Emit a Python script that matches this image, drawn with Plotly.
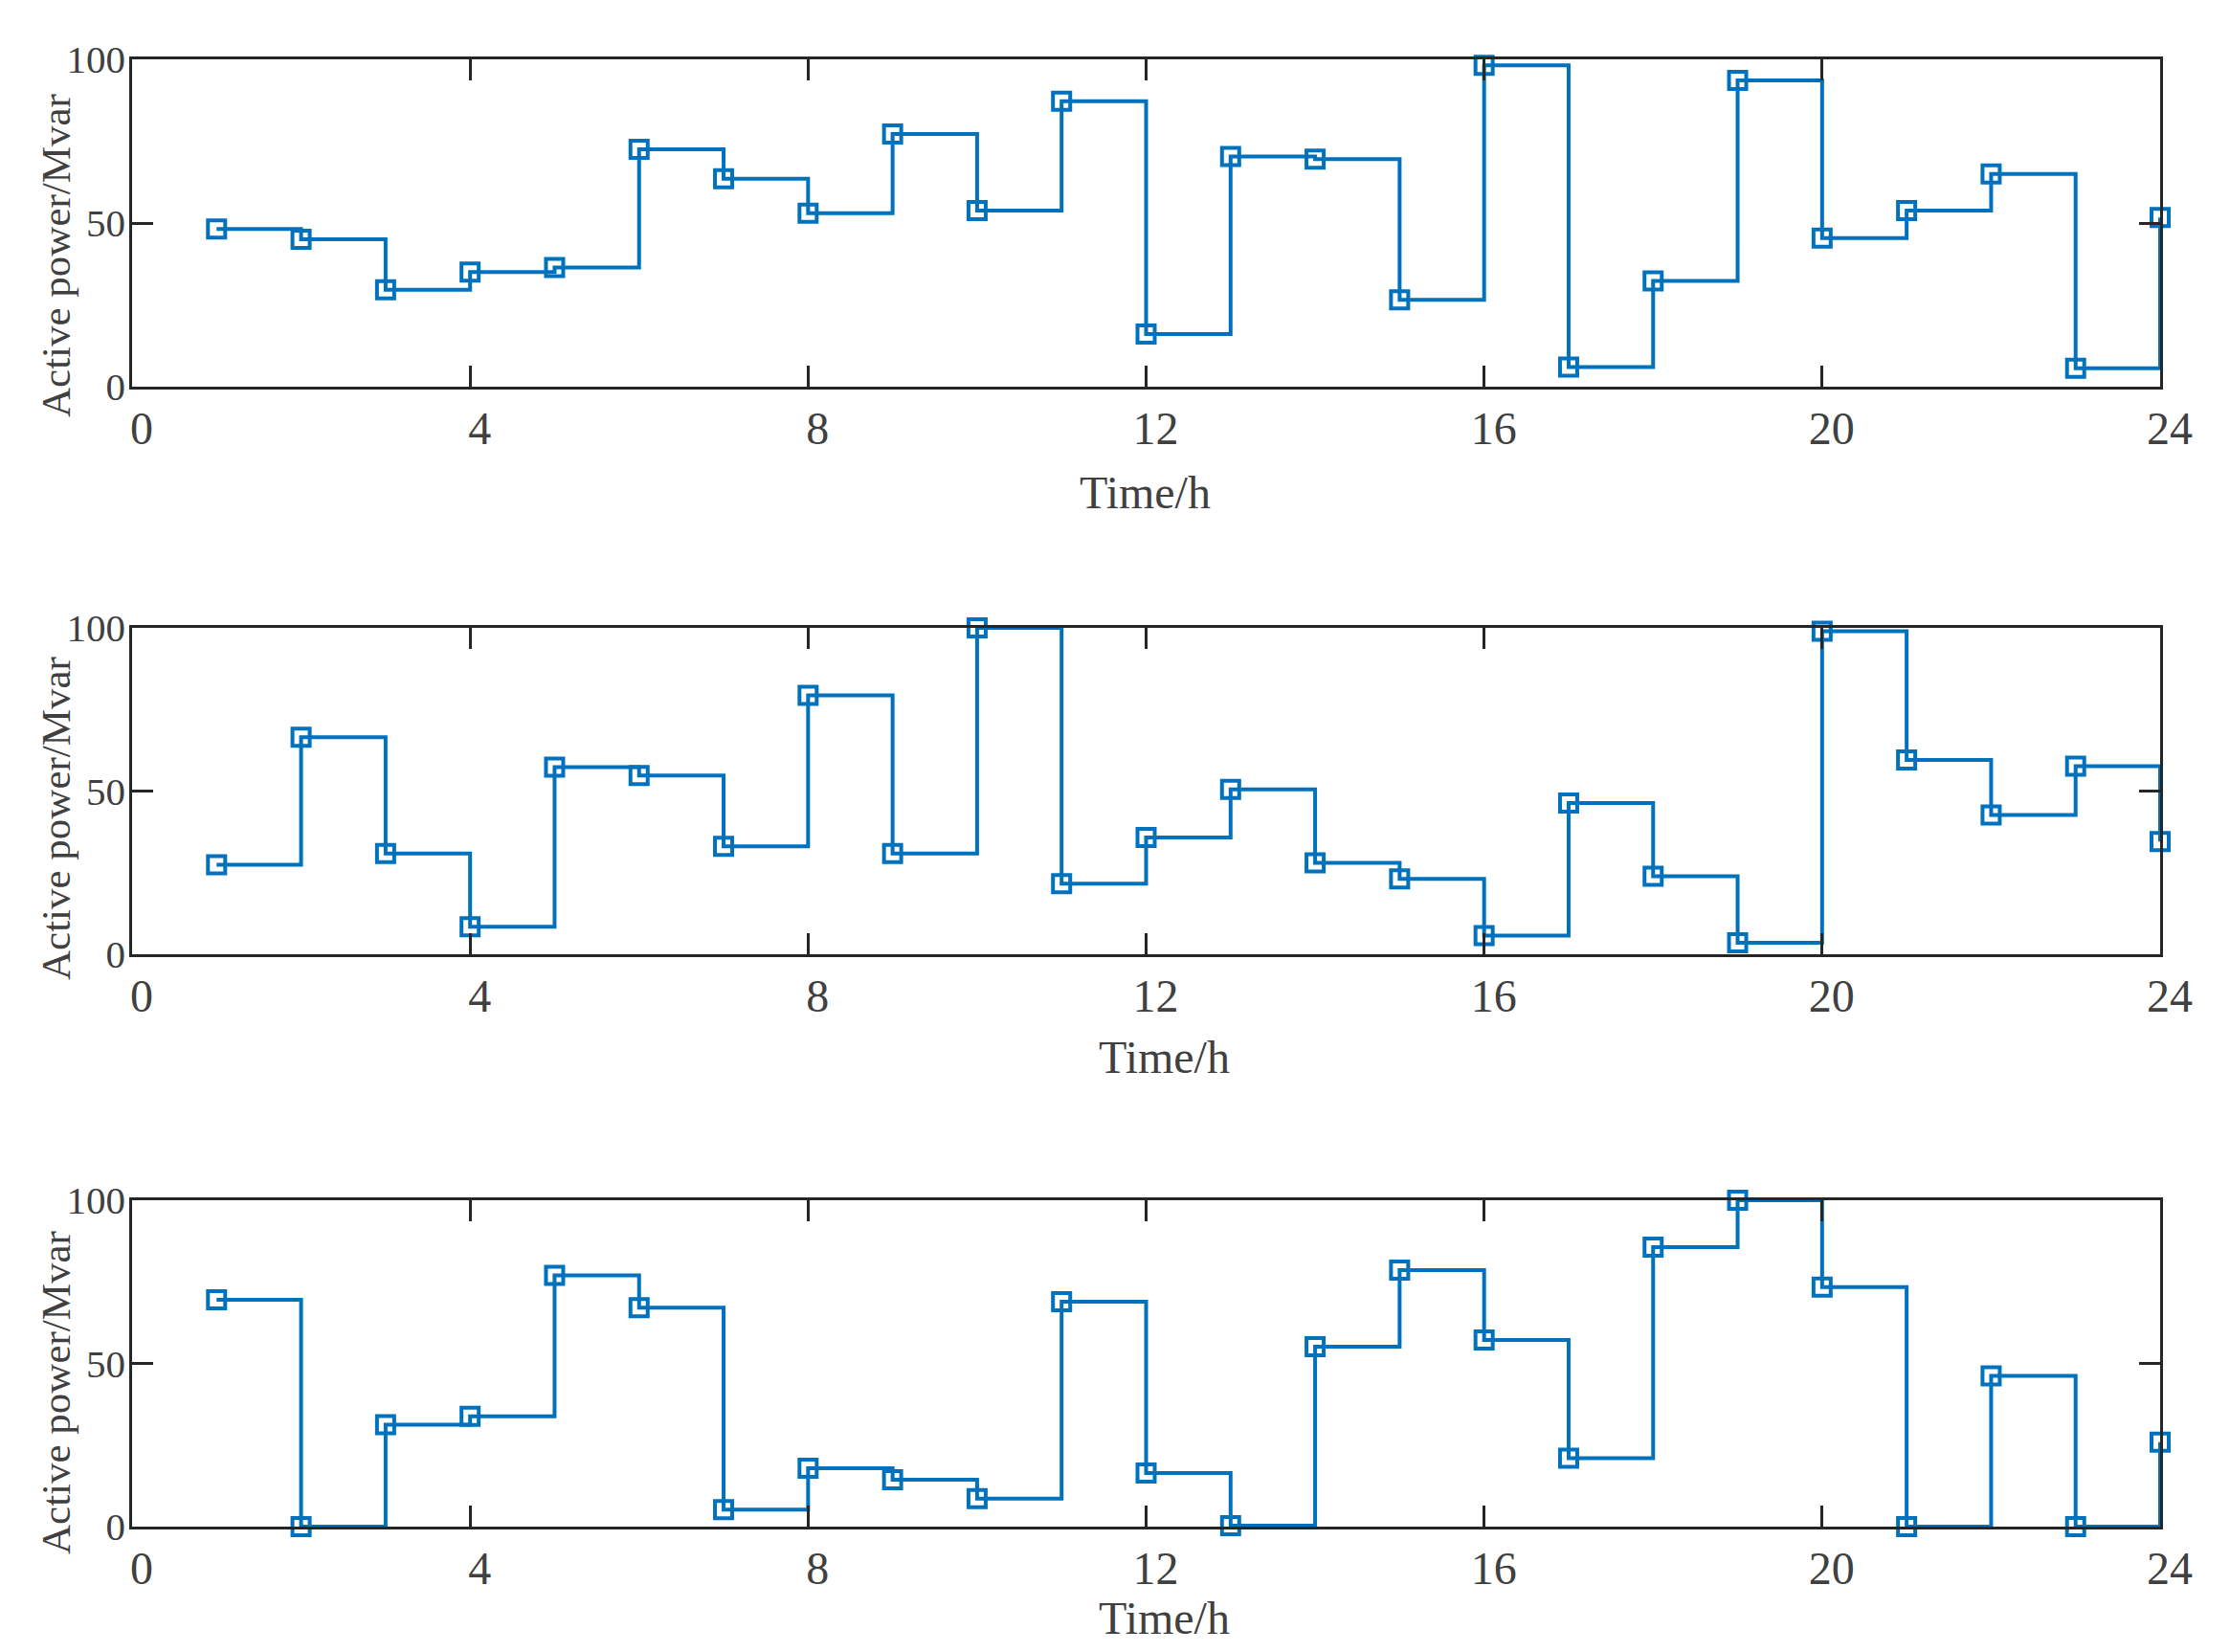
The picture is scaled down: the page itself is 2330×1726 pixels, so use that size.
import plotly.graph_objects as go
from plotly.subplots import make_subplots

# hourly reactive power of the three units
hours = list(range(1, 25))
unit1 = [48.2, 45.0, 29.6, 35.0, 36.4, 72.5, 63.5, 53.0, 77.2, 53.8, 87.2, 16.1,
         70.3, 69.5, 26.5, 98.2, 6.0, 32.3, 93.6, 45.4, 53.8, 65.0, 5.6, 51.7]
unit2 = [27.4, 66.5, 30.9, 8.4, 57.3, 54.8, 33.1, 79.3, 30.9, 100.0, 21.6, 35.8,
         50.5, 28.0, 23.1, 5.7, 46.3, 23.9, 3.5, 99.0, 59.5, 42.7, 57.6, 34.5]
unit3 = [69.5, 0.0, 31.2, 33.8, 77.0, 67.1, 5.2, 17.9, 14.4, 8.6, 68.9, 16.4,
         0.3, 55.1, 78.6, 57.2, 21.0, 85.6, 100.0, 73.4, 0.0, 46.2, 0.0, 25.9]
x_ticks = [0, 4, 8, 12, 16, 20, 24]
y_ticks = [0, 50, 100]
x_title = "Time/h"
y_title = "Active power/Mvar"

W, H = 2330, 1726
FONT = "Liberation Serif"
TEXT = "#404040"
AXIS = "#262626"
BLUE = "#0072BD"

# panel geometry in pixels
left, right = 138, 2257
tops = [62, 656, 1254]
bottoms = [404, 997, 1595]
xtitle_pos = [(1196, 514), (1216, 1104), (1216, 1690)]
ytitle_pos = [(58, 267), (58, 855), (58, 1455)]

fig = make_subplots(rows=3, cols=1)

for i, series in enumerate([unit1, unit2, unit3]):
    r = i + 1
    fig.add_trace(
        go.Scatter(
            x=hours,
            y=series,
            mode="lines+markers",
            line=dict(color=BLUE, width=4, shape="hv"),
            marker=dict(symbol="square-open", size=18, color=BLUE,
                        line=dict(color=BLUE, width=4)),
            cliponaxis=False,
            showlegend=False,
        ),
        row=r,
        col=1,
    )
    fig.update_xaxes(
        domain=[left / W, right / W],
        range=[0, 24],
        tickvals=x_ticks,
        ticks="inside",
        ticklen=22,
        tickwidth=2.5,
        tickcolor=AXIS,
        showline=True,
        linecolor=AXIS,
        linewidth=2.5,
        mirror="ticks",
        showgrid=False,
        zeroline=False,
        automargin=False,
        tickfont=dict(family=FONT, size=48, color=TEXT),
        ticklabelshift=10,
        ticklabelstandoff=0,
        row=r,
        col=1,
    )
    fig.update_yaxes(
        domain=[1 - bottoms[i] / H, 1 - tops[i] / H],
        range=[0, 100],
        tickvals=y_ticks,
        ticks="inside",
        ticklen=22,
        tickwidth=2.5,
        tickcolor=AXIS,
        showline=True,
        linecolor=AXIS,
        linewidth=2.5,
        mirror="ticks",
        showgrid=False,
        zeroline=False,
        automargin=False,
        tickfont=dict(family=FONT, size=41, color=TEXT),
        ticklabelstandoff=-4,
        row=r,
        col=1,
    )
    fig.add_annotation(
        text=x_title, xref="paper", yref="paper",
        x=xtitle_pos[i][0] / W, y=1 - xtitle_pos[i][1] / H,
        xanchor="center", yanchor="middle", showarrow=False,
        font=dict(family=FONT, size=48, color=TEXT),
    )
    fig.add_annotation(
        text=y_title, xref="paper", yref="paper",
        x=ytitle_pos[i][0] / W, y=1 - ytitle_pos[i][1] / H,
        xanchor="center", yanchor="middle", showarrow=False, textangle=-90,
        font=dict(family=FONT, size=43, color=TEXT),
    )

fig.update_layout(
    width=W,
    height=H,
    margin=dict(l=0, r=0, t=0, b=0, autoexpand=False),
    paper_bgcolor="white",
    plot_bgcolor="white",
)

# page margin would shift the figure inside the browser window
fig.write_html(
    "out.html",
    config={"displayModeBar": False},
    post_script="document.body.style.margin='0';document.body.style.overflow='hidden';",
)
